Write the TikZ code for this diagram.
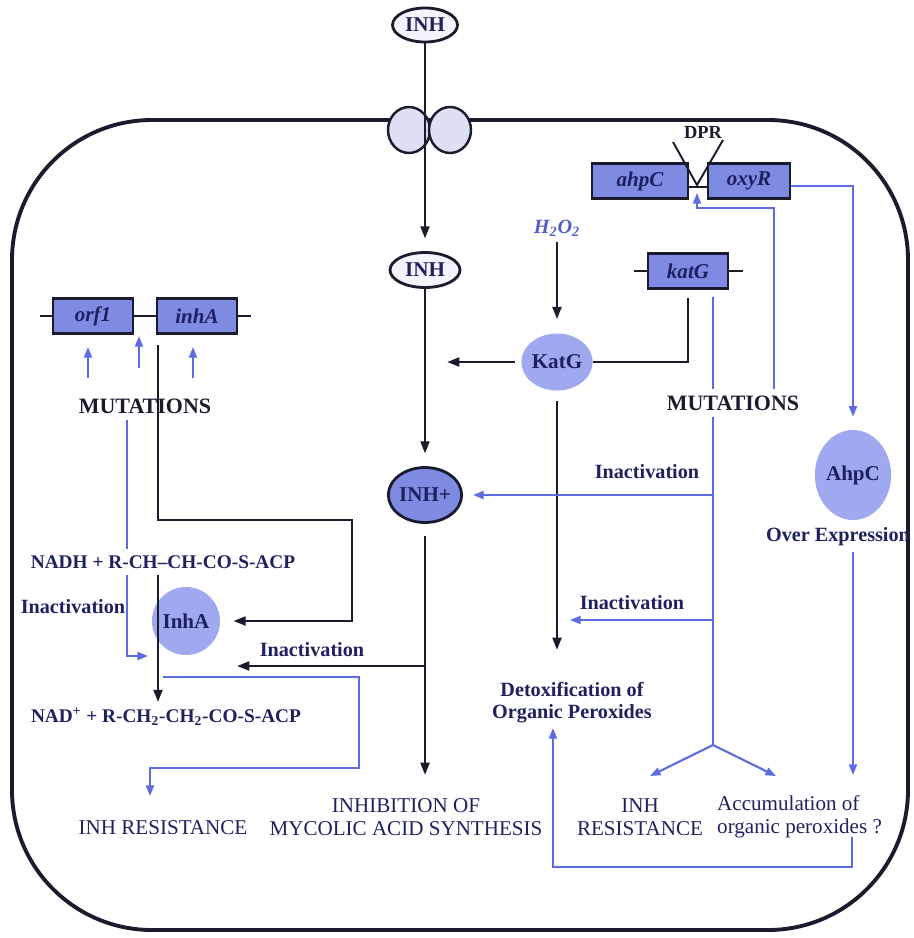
\documentclass[tikz,border=0pt]{standalone}
\usepackage{fontspec}
\setmainfont{Liberation Serif}
\usetikzlibrary{arrows.meta,shapes.geometric}

\definecolor{inkblack}{HTML}{1B1B2E}
\definecolor{navy}{HTML}{1E2160}
\definecolor{pathblue}{HTML}{5E6CE0}
\definecolor{genefill}{HTML}{7F8AE3}
\definecolor{protfill}{HTML}{A0A8EF}
\definecolor{porefill}{HTML}{DEE1F5}

\begin{document}
\begin{tikzpicture}[
x=0.02cm,y=-0.02cm,
cell/.style={draw=inkblack,line width=2.2pt,rounded corners=2.8cm},
gene/.style={
rectangle,draw=inkblack,line width=1.3pt,fill=genefill,
minimum width=1.6cm,minimum height=0.7cm,inner sep=0pt,
font=\fontsize{12}{14}\selectfont\bfseries\itshape,text=navy
},
drug/.style={
ellipse,draw=inkblack,line width=1.6pt,fill=porefill!40,
minimum width=1.3cm,minimum height=0.68cm,inner sep=0pt,
font=\fontsize{12}{14}\selectfont\bfseries,text=navy
},
prot/.style={
ellipse,fill=protfill,
minimum width=1.3cm,minimum height=1.25cm,inner sep=0pt,
font=\fontsize{12}{14}\selectfont\bfseries,text=navy
},
pore/.style={
ellipse,draw=inkblack,line width=1.4pt,fill=porefill,
minimum width=0.84cm,minimum height=0.92cm
},
lbl/.style={align=center,text=navy,font=\fontsize{11.5}{12.5}\selectfont\bfseries},
res/.style={align=center,text=navy,font=\fontsize{12}{13}\selectfont},
mut/.style={text=inkblack,font=\fontsize{12.5}{15}\selectfont\bfseries},
arrow/.style={-{Triangle[length=7pt,width=5pt]},draw=inkblack,line width=1.5pt},
barrow/.style={-{Triangle[length=6pt,width=4.5pt]},draw=pathblue,line width=1.2pt},
bline/.style={draw=pathblue,line width=1.2pt},
kline/.style={draw=inkblack,line width=1.5pt}
]

\useasboundingbox (0,0) rectangle (914,938);

% =======================
% CELL AND ENTRY
% =======================

\draw[cell] (12,120) rectangle (908,930);

\node[drug] (inhout) at (425,25) {INH};
\node[pore] (poreL) at (409,130) {};
\node[pore] (poreR) at (450,130) {};

\node[drug,minimum width=1.4cm,minimum height=0.7cm] (inhin) at (425,270) {INH};

\node[drug,fill=genefill,minimum width=1.38cm,minimum height=1.1cm] (inhplus) at (425,495) {INH+};

\node[res] (mycolic) at (406,817) {INHIBITION OF\\MYCOLIC ACID SYNTHESIS};

\coordinate (mycotip) at (425,775);

% =======================
% LEFT (INHA)
% =======================

\node[gene] (orf1) at (93,316) {orf1};
\node[gene] (inha) at (197,316) {inhA};

\node[mut] (mutL) at (145,406) {MUTATIONS};

\node[lbl,font=\fontsize{11}{13}\selectfont\bfseries] (nadh) at (163,562)
{NADH + R-CH--CH-CO-S-ACP};

\node[prot,minimum width=1.36cm,minimum height=1.36cm] (inhap) at (186,621) {InhA};

\node[lbl,font=\fontsize{11}{13}\selectfont\bfseries] (nad) at (166,717)
{NAD\textsuperscript{+} + R-CH\textsubscript{2}-CH\textsubscript{2}-CO-S-ACP};

\node[lbl] (inact3) at (73,607) {Inactivation};
\node[lbl] (inact4) at (312,650) {Inactivation};

\node[res] (resL) at (163,828) {INH RESISTANCE};

% =======================
% CENTER (KATG)
% =======================

\node[lbl,font=\fontsize{11.5}{13}\selectfont\bfseries\itshape,text=pathblue!80!navy] (h2o2) at (557,228)
{H\textsubscript{2}O\textsubscript{2}};

\node[prot,minimum width=1.24cm,minimum height=1.14cm] (katgp) at (557,362) {KatG};

\node[gene] (katg) at (688,271) {katG};

\node[lbl] (detox) at (572,703) {Detoxification of\\Organic Peroxides};

\coordinate (katgleft) at (447,362);
\coordinate (detoxtip) at (557,650);

% =======================
% RIGHT (AHPC / OXYR)
% =======================

\node[gene,minimum width=1.92cm] (ahpc) at (640,181) {ahpC};
\node[gene,minimum width=1.64cm] (oxyr) at (749,181) {oxyR};

\node[font=\fontsize{10.5}{12}\selectfont\bfseries,text=inkblack] (dpr) at (703,132) {DPR};

\node[mut] (mutR) at (733,403) {MUTATIONS};

\node[lbl] (inact1) at (647,472) {Inactivation};
\node[lbl] (inact2) at (632,603) {Inactivation};

\node[prot,minimum width=1.38cm,minimum height=1.8cm] (ahpcp) at (853,475) {AhpC};
\node[lbl] (overexp) at (838,537) {Over Expression};

\node[res] (resR) at (640,817) {INH\\RESISTANCE};
\node[res,align=left,anchor=west] (accum) at (711,817) {Accumulation of\\organic peroxides ?};

\coordinate (dprL) at (673,142);
\coordinate (dprR) at (723,140);
\coordinate (dprtip) at (697,185);
\coordinate (upbend) at (774,208);
\coordinate (dprup) at (697,193);
\coordinate (bluetop) at (713,297);
\coordinate (split) at (713,745);
\coordinate (resRtip) at (650,776);
\coordinate (accutip) at (776,776);
\coordinate (katgblock) at (570,620);
\coordinate (accuR) at (853,775);
\coordinate (accubot) at (852,837);
\coordinate (loopL) at (553,867);
\coordinate (detoxup) at (553,728);

% =======================
% ARROWS
% =======================

% entry of INH
\draw[arrow] (inhout.south) -- ([yshift=0.25cm]inhin.north);
\draw[arrow] (inhin.south) -- ([yshift=0.25cm]inhplus.north);
\draw[arrow] ([yshift=-0.24cm]inhplus.south) -- (mycotip);

% gene lines
\draw[kline] (orf1.west) -- ++(-12,0);
\draw[kline] (orf1.east) -- (inha.west);
\draw[kline] (inha.east) -- ++(13,0);
\draw[kline] (katg.west) -- ++(-13,0);
\draw[kline] (katg.east) -- ++(14,0);
\draw[kline] ([yshift=-0.12cm]ahpc.east) -- ([yshift=-0.12cm]oxyr.west);
\draw[kline,line width=1.1pt] (dprL) -- (dprtip) -- (dprR);

% left mutations
\foreach \i/\x/\ya/\yb in {1/88/378/347,2/139/368/336,3/193/378/347}{
\coordinate (ua\i) at (\x,\ya);
\coordinate (ub\i) at (\x,\yb);
\draw[barrow] (ua\i) -- (ub\i);
}

\coordinate (lx) at (127,656);
\coordinate (lxtip) at (148,656);
\coordinate (inhatop) at (158,345);
\coordinate (kbend1) at (158,520);
\coordinate (kbend2) at (352,520);
\coordinate (inact4tip) at (237,666);
\coordinate (loopA) at (163,677);
\coordinate (loopB) at (359,768);
\coordinate (resLtip) at (150,796);

\draw[bline] (mutL.south -| lx) -- (nadh.north -| lx);
\draw[barrow] (nadh.south -| lx) |- (lxtip);
\draw[arrow] (inhatop) -- (kbend1) -- (kbend2) |- ([xshift=0.26cm]inhap.east);
\draw[arrow] (nadh.south -| inhatop) -- (nad.north -| inhatop);
\draw[arrow] (mycotip |- inact4tip) -- (inact4tip);
\draw[barrow] (loopA) -| (loopB) -| (resLtip);

% katG
\draw[arrow] (h2o2.south) -- ([yshift=0.28cm]katgp.north);
\draw[arrow] ([xshift=-0.12cm]katgp.west) -- (katgleft);
\draw[kline] ([yshift=-0.17cm]katg.south) |- (katgp.east);
\draw[arrow] ([yshift=-0.2cm]katgp.south) -- (detoxtip);

% right mutations
\draw[bline] (bluetop) -- (mutR.north -| bluetop);
\draw[bline] (mutR.south -| split) -- (split);
\draw[barrow] (split) -- (resRtip);
\draw[barrow] (split) -- (accutip);
\draw[barrow] (split |- inhplus.east) -- ([xshift=0.2cm]inhplus.east);
\draw[barrow] (split |- katgblock) -- (katgblock);
\draw[barrow] (mutR.north -| upbend) -- (upbend) -| (dprup);

% ahpC
\draw[barrow] ([yshift=-0.1cm]oxyr.east) -| ([yshift=0.26cm]ahpcp.north);
\draw[barrow] (overexp.south -| ahpcp.south) -- (accuR);
\draw[barrow] (accubot) |- (loopL) -- (detoxup);

\end{tikzpicture}
\end{document}
